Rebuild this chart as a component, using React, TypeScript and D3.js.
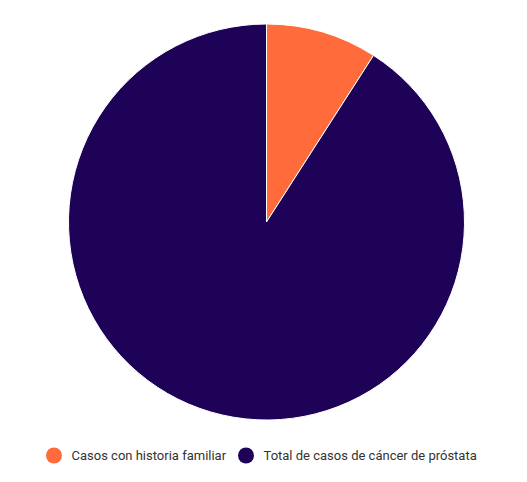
import React from "react";
import * as d3 from "d3";

const categories = ["Casos con historia familiar", "Total de casos de cáncer de próstata"];
const values = [10, 100];
const colors = ["#FF6B3B", "#1D0257"];

export default function App() {
  const width = 527;
  const height = 482;
  const cx = 266.5;
  const cy = 222;
  const r = 198;
  const pie = d3.pie<number>().sort(null).value((d) => d);
  const arcs = pie(values);
  const arcGen = d3.arc<d3.PieArcDatum<number>>().innerRadius(0).outerRadius(r);

  const legendX = [54, 246];
  const legendY = 455.5;

  return (
    <svg width={width} height={height} style={{ position: "absolute", left: 0, top: 0 }}>
      <rect width={width} height={height} fill="#ffffff" />
      <g transform={`translate(${cx},${cy})`}>
        {arcs.map((a, i) => (
          <path key={i} d={arcGen(a) || ""} fill={colors[i]} stroke="#ffffff" strokeWidth={1} />
        ))}
      </g>
      <g fontFamily="Roboto, sans-serif" fontSize={13} fill="#333333">
        {categories.map((c, i) => (
          <g key={i}>
            <circle cx={legendX[i]} cy={legendY} r={8} fill={colors[i]} />
            <text x={legendX[i] + 17.5} y={legendY} dominantBaseline="central">
              {c}
            </text>
          </g>
        ))}
      </g>
    </svg>
  );
}
